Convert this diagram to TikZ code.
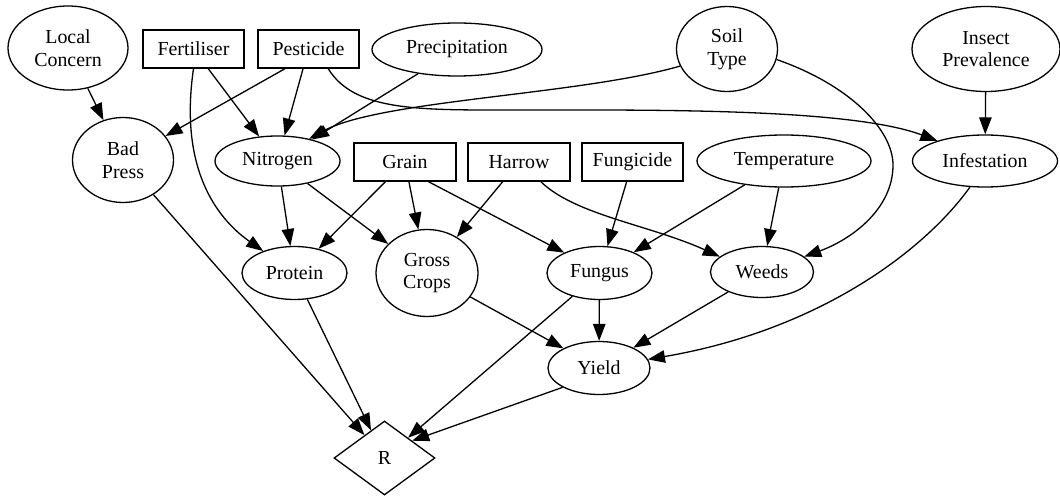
\documentclass[tikz,border=0pt]{standalone}
\usepackage{fontspec}
\setmainfont{Liberation Serif}
\usetikzlibrary{shapes.geometric,arrows.meta}
\begin{document}
\begin{tikzpicture}[x=1pt,y=-1pt,
  gnode/.style={font=\fontsize{19.9}{22.5}\selectfont, inner sep=0pt, align=center, draw, line width=1.3pt},
  ell/.style={gnode, ellipse},
  box/.style={gnode, rectangle},
  dia/.style={gnode, diamond, aspect=1.365},
  edge/.style={line width=1.3pt, -{Triangle[length=17pt,width=12.5pt]}},
]
\fill[white] (0,0) rectangle (1060,497);
\useasboundingbox (0,0) rectangle (1060,497);
% row 1
\node[ell, minimum width=120pt, minimum height=84pt] (lc) at (68,48) {Local\\Concern};
\node[box, minimum width=101pt, minimum height=38pt] (fert) at (193.5,49) {Fertiliser};
\node[box, minimum width=101pt, minimum height=38pt] (pest) at (308.5,49) {Pesticide};
\node[ell, minimum width=170pt, minimum height=53pt] (prec) at (457,49.5) {Precipitation};
\node[ell, minimum width=101pt, minimum height=85pt] (soil) at (727,49) {Soil\\Type};
\node[ell, minimum width=148pt, minimum height=85pt] (insect) at (986,49) {Insect\\Prevalence};
% row 2
\node[ell, minimum width=101pt, minimum height=85pt] (bad) at (123,160) {Bad\\Press};
\node[ell, minimum width=125pt, minimum height=50pt] (nit) at (277.5,161) {Nitrogen};
\node[box, minimum width=102pt, minimum height=38pt] (grain) at (405,162) {Grain};
\node[box, minimum width=102pt, minimum height=38pt] (harrow) at (519,162) {Harrow};
\node[box, minimum width=101pt, minimum height=38pt] (fungicide) at (632.5,162) {Fungicide};
\node[ell, minimum width=174pt, minimum height=52pt] (temp) at (784,161) {Temperature};
\node[ell, minimum width=145pt, minimum height=52pt] (infest) at (985,161) {Infestation};
% row 3
\node[ell, minimum width=105pt, minimum height=53pt] (protein) at (294.5,273) {Protein};
\node[ell, minimum width=102pt, minimum height=87pt] (gross) at (427,273) {Gross\\Crops};
\node[ell, minimum width=105pt, minimum height=53pt] (fungus) at (599.5,273) {Fungus};
\node[ell, minimum width=103pt, minimum height=51pt] (weeds) at (762,272) {Weeds};
% row 4,5
\node[ell, minimum width=102pt, minimum height=53pt] (yield) at (599,368) {Yield};
\node[dia, minimum width=101pt, minimum height=74pt] (R) at (384.5,458) {R};
% edges
\draw[edge] (lc) -- (bad);
\draw[edge] (fert) -- (nit);
\draw[edge] (fert.south) .. controls (178,175) and (222,222) .. (protein.145);
\draw[edge] (pest.-140) -- (bad);
\draw[edge] (pest) -- (nit);
\draw[edge] (pest.-45) .. controls (355,112) and (420,110) .. (520,110)
   .. controls (650,110) and (850,108) .. (infest.157);
\draw[edge] (prec) -- (nit);
\draw[edge] (soil.200) .. controls (580,95) and (380,100) .. (nit.35);
\draw[edge] (soil.-12) .. controls (850,85) and (893,130) .. (893,165)
   .. controls (893,210) and (850,240) .. (weeds.20);
\draw[edge] (insect) -- (infest);
\draw[edge] (bad) -- (R);
\draw[edge] (nit) -- (protein);
\draw[edge] (nit) -- (gross);
\draw[edge] (grain) -- (protein);
\draw[edge] (grain) -- (gross);
\draw[edge] (grain.-40) -- (fungus.150);
\draw[edge] (harrow) -- (gross);
\draw[edge] (harrow.-42) .. controls (575,215) and (650,225) .. (weeds.160);
\draw[edge] (fungicide) -- (fungus);
\draw[edge] (temp) -- (fungus);
\draw[edge] (temp) -- (weeds);
\draw[edge] (infest.-120) .. controls (925,250) and (820,330) .. (yield.10);
\draw[edge] (protein) -- (R);
\draw[edge] (gross) -- (yield);
\draw[edge] (fungus) -- (yield);
\draw[edge] (fungus) -- (R);
\draw[edge] (weeds) -- (yield);
\draw[edge] (yield.-152) -- (R.32);
\end{tikzpicture}
\end{document}
